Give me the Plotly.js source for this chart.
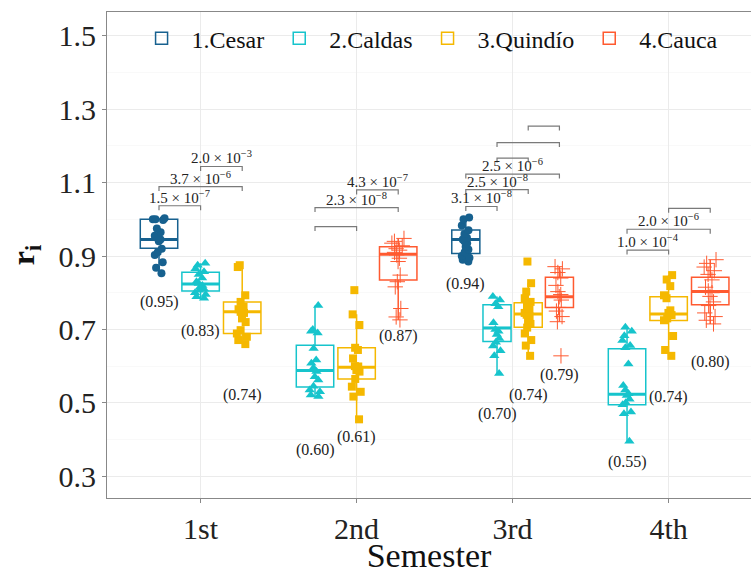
<!DOCTYPE html>
<html><head><meta charset="utf-8">
<script src="https://cdn.plot.ly/plotly-3.0.1.min.js"></script>
<style>html,body{margin:0;padding:0;background:#fff}#chart{width:751px;height:574px}</style>
</head><body><div id="chart"></div>
<script>
// ---------------- DATA ----------------
const semesters = ["1st", "2nd", "3rd", "4th"];
const groupNames = ["1.Cesar", "2.Caldas", "3.Quindío", "4.Cauca"];

// raw r_i values per semester (null = group absent in that semester)
const cesarPts = [
  [1.003, 1.0, 1.0, 0.998, 0.975, 0.965, 0.955, 0.95, 0.945, 0.94, 0.92, 0.91, 0.903, 0.883, 0.868, 0.853],
  null,
  [1.005, 1.0, 0.983, 0.97, 0.96, 0.95, 0.945, 0.94, 0.935, 0.925, 0.918, 0.91, 0.90, 0.895, 0.89, 0.885],
  null
];
const caldasPts = [
  [0.88, 0.875, 0.865, 0.857, 0.85, 0.84, 0.83, 0.825, 0.82, 0.816, 0.81, 0.807, 0.80, 0.795, 0.789, 0.785],
  [0.765, 0.70, 0.695, 0.69, 0.648, 0.617, 0.608, 0.595, 0.585, 0.571, 0.562, 0.545, 0.535, 0.53, 0.521, 0.517],
  [0.79, 0.78, 0.77, 0.762, 0.718, 0.70, 0.695, 0.686, 0.675, 0.665, 0.655, 0.642, 0.628, 0.58],
  [0.706, 0.695, 0.683, 0.67, 0.656, 0.65, 0.606, 0.547, 0.535, 0.525, 0.52, 0.51, 0.50, 0.495, 0.475, 0.47, 0.395]
];
const quindioPts = [
  [0.875, 0.87, 0.793, 0.775, 0.762, 0.755, 0.748, 0.745, 0.73, 0.72, 0.698, 0.689, 0.68, 0.671, 0.66],
  [0.807, 0.741, 0.712, 0.65, 0.644, 0.621, 0.60, 0.599, 0.589, 0.585, 0.565, 0.544, 0.53, 0.517, 0.455],
  [0.885, 0.826, 0.803, 0.785, 0.775, 0.765, 0.755, 0.745, 0.74, 0.735, 0.725, 0.715, 0.705, 0.689, 0.671, 0.656, 0.628],
  [0.848, 0.836, 0.818, 0.793, 0.785, 0.752, 0.745, 0.739, 0.73, 0.725, 0.682, 0.644, 0.628]
];
const caucaPts = [
  null,
  [0.948, 0.94, 0.935, 0.928, 0.92, 0.916, 0.91, 0.903, 0.894, 0.885, 0.848, 0.83, 0.816, 0.757, 0.734, 0.726],
  [0.871, 0.865, 0.855, 0.84, 0.82, 0.803, 0.795, 0.789, 0.78, 0.76, 0.75, 0.735, 0.721, 0.628],
  [0.89, 0.88, 0.87, 0.86, 0.85, 0.835, 0.815, 0.805, 0.80, 0.79, 0.775, 0.765, 0.745, 0.735, 0.725, 0.715]
];

// box statistics (rows: Cesar, Caldas, Quindío, Cauca; cols: semesters)
const q1Vals     = [[0.921, null, 0.907, null], [0.805, 0.543, 0.667, 0.495], [0.689, 0.565, 0.706, 0.724], [null, 0.835, 0.760, 0.767]];
const medianVals = [[0.945, null, 0.945, null], [0.824, 0.588, 0.704, 0.523], [0.748, 0.597, 0.742, 0.742], [null, 0.905, 0.789, 0.803]];
const q3Vals     = [[1.000, null, 0.971, null], [0.856, 0.657, 0.767, 0.647], [0.775, 0.650, 0.773, 0.789], [null, 0.925, 0.842, 0.842]];
const lowVals    = [[0.853, null, 0.885, null], [0.785, 0.517, 0.580, 0.395], [0.660, 0.455, 0.628, 0.628], [null, 0.726, 0.721, 0.715]];
const highVals   = [[1.003, null, 1.005, null], [0.880, 0.765, 0.790, 0.706], [0.875, 0.741, 0.826, 0.848], [null, 0.948, 0.871, 0.890]];

// mean labels
const meanLabels = [
  ["(0.95)", null, "(0.94)", null],
  ["(0.83)", "(0.60)", "(0.70)", "(0.55)"],
  ["(0.74)", "(0.61)", "(0.74)", "(0.74)"],
  [null, "(0.87)", "(0.79)", "(0.80)"]
];

// pairwise comparison p-values: [semester index, group a, group b, label]
const comparisons = [
  [0, 0, 1, "1.5 × 10<sup>−7</sup>"],
  [0, 0, 2, "3.7 × 10<sup>−6</sup>"],
  [0, 1, 2, "2.0 × 10<sup>−3</sup>"],
  [1, 1, 2, ""],
  [1, 1, 3, "2.3 × 10<sup>−8</sup>"],
  [1, 2, 3, "4.3 × 10<sup>−7</sup>"],
  [2, 0, 1, "3.1 × 10<sup>−8</sup>"],
  [2, 0, 2, "2.5 × 10<sup>−8</sup>"],
  [2, 0, 3, "2.5 × 10<sup>−6</sup>"],
  [2, 1, 2, ""],
  [2, 1, 3, ""],
  [2, 2, 3, ""],
  [3, 1, 2, "1.0 × 10<sup>−4</sup>"],
  [3, 1, 3, "2.0 × 10<sup>−6</sup>"],
  [3, 2, 3, ""]
];

// ---------------- LAYOUT CONFIG (positions/styles) ----------------
const bracketLevels = [1.037, 1.089, 1.144, 0.98, 1.032, 1.08, 1.035, 1.081, 1.123, 1.167, 1.209, 1.254, 0.916, 0.973, 1.03];
const labelLevels = [
  [0.775, null, 0.824, null],
  [0.696, 0.371, 0.469, 0.339],
  [0.521, 0.407, 0.521, 0.516],
  [null, 0.682, 0.576, 0.611]
];
const colors = ["#17618F", "#16C4CC", "#F5B800", "#FF5A30"];
const symbols = ["circle", "triangle-up", "square", "cross-thin"];
const sizes = [8, 9, 8, 11];
const serif = "Liberation Serif, Times New Roman, serif";

const allPts = [cesarPts, caldasPts, quindioPts, caucaPts];

// dodge positions
const pos = [[], [], [], []], wid = [[], [], [], []];
for (let s = 0; s < 4; s++) {
  const members = [0, 1, 2, 3].filter(g => allPts[g][s]);
  const n = members.length, slot = 0.8 / n;
  members.forEach((g, k) => {
    pos[g][s] = (s + 1) + (k - (n - 1) / 2) * slot;
    wid[g][s] = 0.9 * slot;
  });
}

const traces = [];
for (let g = 0; g < 4; g++) {
  let first = true;
  for (let s = 0; s < 4; s++) {
    if (!allPts[g][s]) continue;
    traces.push({
      type: "box", name: groupNames[g], legendgroup: "g" + g, showlegend: first,
      x: [pos[g][s]], y: [allPts[g][s]],
      q1: [q1Vals[g][s]], median: [medianVals[g][s]], q3: [q3Vals[g][s]],
      lowerfence: [lowVals[g][s]], upperfence: [highVals[g][s]],
      width: wid[g][s], boxpoints: "all", jitter: 0.35, pointpos: 0, whiskerwidth: 0,
      line: { color: colors[g], width: 1.5 }, fillcolor: "rgba(255,255,255,0)",
      marker: { symbol: symbols[g], size: sizes[g], color: colors[g], line: { color: colors[g], width: g === 3 ? 1 : 0 } },
      hoverinfo: "y"
    });
    first = false;
  }
}
// thicker median bars
for (let g = 0; g < 4; g++) {
  const xs = [], ys = [];
  for (let s = 0; s < 4; s++) {
    if (!allPts[g][s]) continue;
    xs.push(pos[g][s] - wid[g][s] / 2, pos[g][s] + wid[g][s] / 2, null);
    ys.push(medianVals[g][s], medianVals[g][s], null);
  }
  traces.push({ type: "scatter", mode: "lines", x: xs, y: ys, showlegend: false, hoverinfo: "skip",
    line: { color: colors[g], width: 3 } });
}

const shapes = [], annotations = [];
const tip = 0.012;
comparisons.forEach((c, i) => {
  const [s, a, b, lab] = c;
  const x1 = pos[a][s], x2 = pos[b][s], y = bracketLevels[i];
  shapes.push({ type: "path", xref: "x", yref: "y",
    path: `M ${x1},${y - tip} L ${x1},${y} L ${x2},${y} L ${x2},${y - tip}`,
    line: { color: "#7a7a7a", width: 1.2 } });
  if (lab) annotations.push({ x: (x1 + x2) / 2, y: y, xref: "x", yref: "y", text: lab, showarrow: false,
    yanchor: "bottom", yshift: -2, font: { family: serif, size: 15, color: "#222" } });
});
for (let g = 0; g < 4; g++) for (let s = 0; s < 4; s++) {
  if (!meanLabels[g][s]) continue;
  annotations.push({ x: pos[g][s], y: labelLevels[g][s], xref: "x", yref: "y", text: meanLabels[g][s],
    showarrow: false, font: { family: serif, size: 16, color: "#222" } });
}

const layout = {
  width: 751, height: 574,
  margin: { l: 107, r: 0, t: 12, b: 76 },
  paper_bgcolor: "#fff", plot_bgcolor: "#fff",
  showlegend: true,
  legend: { orientation: "h", x: 0.497, xanchor: "center", y: 0.945, yanchor: "middle", itemwidth: 50,
    font: { family: serif, size: 24, color: "#111" }, bgcolor: "rgba(0,0,0,0)", traceorder: "normal" },
  xaxis: {
    range: [0.4, 4.528], tickvals: [1, 2, 3, 4], ticktext: semesters,
    showgrid: true, gridcolor: "#EBEBEB", gridwidth: 1, zeroline: false,
    showline: true, linecolor: "#888", linewidth: 1, mirror: true,
    ticks: "outside", ticklen: 4, tickcolor: "#888",
    tickfont: { family: serif, size: 30, color: "#222" },
    title: { text: "Semester", font: { family: serif, size: 34, color: "#111" }, standoff: 4 }
  },
  yaxis: {
    range: [0.2406, 1.565], tick0: 0.3, dtick: 0.2, tickformat: ".1f",
    showgrid: true, gridcolor: "#EBEBEB", gridwidth: 1, zeroline: false,
    minor: { tick0: 0.3, dtick: 0.1, showgrid: true, gridcolor: "#F5F5F5", gridwidth: 0.6 },
    showline: true, linecolor: "#888", linewidth: 1,
    ticks: "outside", ticklen: 4, tickcolor: "#888",
    tickfont: { family: serif, size: 30, color: "#222" },
    title: { text: "<b>r<sub>i</sub></b>", font: { family: serif, size: 32, color: "#111" }, standoff: 14 }
  },
  shapes: shapes, annotations: annotations
};

Plotly.newPlot("chart", traces, layout, { displayModeBar: false, staticPlot: true });
</script>
</body></html>
